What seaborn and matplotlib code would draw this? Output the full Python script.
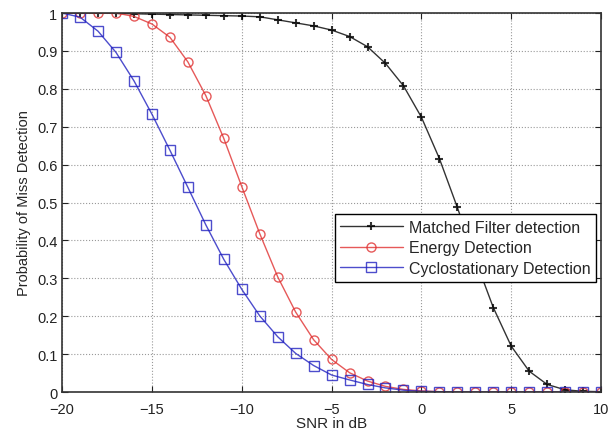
import numpy as np
import pandas as pd
import matplotlib
matplotlib.use("Agg")
import matplotlib.pyplot as plt
import seaborn as sns

snr = list(range(-20, 11))

matched = [1.0, 1.0, 1.0, 0.999, 0.998, 0.997, 0.996, 0.995, 0.994, 0.993,
           0.992, 0.99, 0.982, 0.974, 0.966, 0.955, 0.938, 0.911, 0.867, 0.808,
           0.725, 0.616, 0.487, 0.35, 0.223, 0.121, 0.055, 0.02, 0.006, 0.002, 0.001]
energy = [1.0, 1.0, 1.0, 1.0, 0.991, 0.971, 0.936, 0.871, 0.782, 0.669,
          0.542, 0.418, 0.304, 0.211, 0.138, 0.086, 0.051, 0.029, 0.015, 0.007,
          0.003, 0.001, 0.0, 0.0, 0.0, 0.0, 0.0, 0.0, 0.0, 0.0, 0.0]
cyclo = [1.0, 0.989, 0.952, 0.896, 0.821, 0.733, 0.638, 0.54, 0.441, 0.35,
         0.271, 0.201, 0.146, 0.102, 0.07, 0.045, 0.032, 0.02, 0.011, 0.005,
         0.002, 0.001, 0.0, 0.0, 0.0, 0.0, 0.0, 0.0, 0.0, 0.0, 0.0]

labels = ["Matched Filter detection", "Energy Detection", "Cyclostationary Detection"]

df = pd.DataFrame({
    "snr": snr * 3,
    "pmd": matched + energy + cyclo,
    "method": [labels[0]] * len(snr) + [labels[1]] * len(snr) + [labels[2]] * len(snr),
})

sns.set_style("white")
plt.rcParams['font.family'] = ['Liberation Sans', 'DejaVu Sans']

fig = plt.figure(figsize=(6.09, 4.31), dpi=100)
ax = fig.add_axes([0.102, 0.088, 0.885, 0.8795])

styles = [
    dict(color="black", marker="+", ms=6, mew=1.5, mfc="black"),
    dict(color="#e03030", marker="o", ms=6.5, mew=1.0, mfc="none"),
    dict(color="#2020c0", marker="s", ms=6.5, mew=1.0, mfc="none"),
]
for lab, st in zip(labels, styles):
    sub = df[df["method"] == lab]
    sns.lineplot(data=sub, x="snr", y="pmd", ax=ax, label=lab, lw=1.0,
                 color=st["color"], marker=st["marker"], markersize=st["ms"],
                 markeredgewidth=st["mew"], markerfacecolor=st["mfc"],
                 markeredgecolor=st["color"], alpha=0.8)

ax.set_xlim(-20, 10)
ax.set_ylim(0, 1)
ax.set_xticks([-20, -15, -10, -5, 0, 5, 10])
ax.set_yticks(np.arange(0, 1.01, 0.1))
ax.set_yticklabels(["0", "0.1", "0.2", "0.3", "0.4", "0.5", "0.6", "0.7", "0.8", "0.9", "1"])
ax.grid(True, linestyle=":", color="#999999", lw=0.8)
ax.tick_params(direction="in", length=4, labelsize=10.5, colors="#222222",
               top=True, right=True, bottom=True, left=True)
ax.tick_params(axis="x", pad=7)
for s in ax.spines.values():
    s.set_visible(True)
    s.set_color("#333333")
    s.set_linewidth(1.2)
ax.set_xlabel("SNR in dB", fontsize=11, labelpad=0)
ax.set_ylabel("Probability of Miss Detection", fontsize=10.5, labelpad=4)

leg = ax.legend(loc="upper right", bbox_to_anchor=(0.991, 0.469), fontsize=11.5,
                frameon=True, fancybox=False, framealpha=1, edgecolor="black",
                borderpad=0.35, labelspacing=0.35, handlelength=3.9, handletextpad=0.4,
                borderaxespad=0)
leg.get_frame().set_linewidth(1.0)

fig.savefig("out.png", dpi=100)
